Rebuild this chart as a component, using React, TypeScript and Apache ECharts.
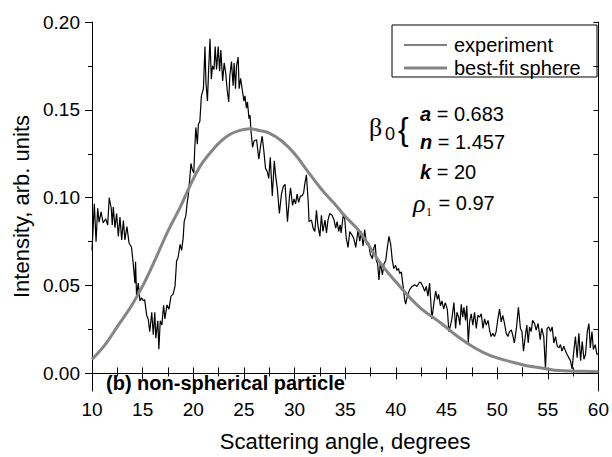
import React, { useEffect, useRef } from "react";
import * as echarts from "echarts";

const FONT = '"Liberation Sans", Arial, sans-serif';
const SERIF = '"Liberation Serif", "Times New Roman", serif';

// experiment (scattering angle, intensity)
const expX = [
  10.0, 10.23, 10.4, 10.56, 10.7, 10.9, 11.1, 11.35, 11.55, 11.7, 11.9, 12.0, 12.1, 12.27, 12.43, 12.6, 12.76, 12.93,
  13.1, 13.25, 13.45, 13.65, 13.9, 14.07, 14.24, 14.3, 14.4, 14.57, 14.73, 14.9, 15.06, 15.2, 15.4, 15.55, 15.7, 15.9,
  16.05, 16.2, 16.3, 16.5, 16.6, 16.74, 16.9, 17.07, 17.2, 17.4, 17.6, 17.8, 18.0, 18.2, 18.35, 18.5, 18.7, 18.85,
  19.0, 19.1, 19.27, 19.4, 19.5, 19.67, 19.77, 19.9, 20.05, 20.15, 20.25, 20.4, 20.5, 20.65, 20.8, 21.0, 21.15, 21.25,
  21.4, 21.5, 21.65, 21.78, 21.9, 22.05, 22.16, 22.3, 22.46, 22.6, 22.72, 22.9, 23.05, 23.2, 23.35, 23.5, 23.6, 23.77,
  23.93, 24.03, 24.17, 24.27, 24.43, 24.53, 24.67, 24.82, 25.0, 25.1, 25.25, 25.35, 25.5, 25.6, 25.7, 25.85, 26.0,
  26.25, 26.47, 26.67, 26.8, 26.96, 27.13, 27.3, 27.45, 27.6, 27.8, 28.0, 28.1, 28.3, 28.5, 28.7, 28.9, 29.06, 29.3,
  29.5, 29.6, 29.8, 29.95, 30.1, 30.25, 30.4, 30.58, 30.74, 30.9, 31.0, 31.17, 31.35, 31.43, 31.67, 31.83, 32.0, 32.16,
  32.3, 32.5, 32.65, 32.8, 33.0, 33.15, 33.3, 33.47, 33.7, 33.9, 34.06, 34.2, 34.36, 34.5, 34.6, 34.8, 34.95, 35.1,
  35.28, 35.45, 35.64, 35.84, 36.04, 36.27, 36.43, 36.6, 36.76, 36.92, 37.1, 37.3, 37.47, 37.68, 37.84, 37.97, 38.07,
  38.2, 38.33, 38.47, 38.67, 38.83, 39.0, 39.16, 39.32, 39.49, 39.65, 39.8, 39.98, 40.1, 40.27, 40.37, 40.54, 40.7,
  40.87, 40.97, 41.13, 41.36, 41.6, 41.85, 42.08, 42.35, 42.5, 42.67, 42.85, 43.0, 43.17, 43.33, 43.56, 43.76, 43.93,
  44.1, 44.22, 44.4, 44.55, 44.72, 44.88, 45.08, 45.24, 45.4, 45.53, 45.73, 45.9, 46.03, 46.2, 46.32, 46.46, 46.6,
  46.72, 46.88, 47.0, 47.15, 47.28, 47.44, 47.6, 47.77, 47.94, 48.1, 48.26, 48.43, 48.6, 48.76, 48.92, 49.1, 49.25,
  49.4, 49.57, 49.74, 49.9, 50.07, 50.24, 50.4, 50.56, 50.73, 50.9, 51.06, 51.22, 51.4, 51.55, 51.7, 51.9, 52.1, 52.3,
  52.45, 52.6, 52.8, 52.93, 53.07, 53.2, 53.36, 53.5, 53.7, 53.85, 54.05, 54.25, 54.4, 54.6, 54.77, 54.93, 55.1,
  55.27, 55.43, 55.6, 55.76, 55.93, 56.1, 56.25, 56.4, 56.58, 56.75, 56.9, 57.07, 57.24, 57.4, 57.57, 57.73, 57.9,
  58.07, 58.24, 58.4, 58.57, 58.73, 58.9, 59.06, 59.2, 59.36, 59.5, 59.68, 59.85, 60.0,
];
const expY = [
  0.07, 0.0965, 0.075, 0.094, 0.086, 0.092, 0.0856, 0.088, 0.0845, 0.1, 0.094, 0.0845, 0.0947, 0.083, 0.091, 0.078,
  0.089, 0.076, 0.087, 0.076, 0.0836, 0.0744, 0.0718, 0.0624, 0.0514, 0.0635, 0.0442, 0.0514, 0.0414, 0.043, 0.0414,
  0.042, 0.033, 0.031, 0.0237, 0.0348, 0.022, 0.0348, 0.02, 0.03, 0.0138, 0.03, 0.0276, 0.0387, 0.031, 0.039, 0.0366,
  0.044, 0.045, 0.0497, 0.064, 0.066, 0.0735, 0.07, 0.077, 0.0864, 0.09, 0.0974, 0.101, 0.112, 0.1195, 0.116, 0.114,
  0.1287, 0.14, 0.1305, 0.1416, 0.1435, 0.158, 0.162, 0.186, 0.1656, 0.155, 0.171, 0.1904, 0.1674, 0.175, 0.173,
  0.186, 0.173, 0.186, 0.172, 0.184, 0.1665, 0.1767, 0.171, 0.161, 0.1545, 0.169, 0.1775, 0.1637, 0.1767, 0.162,
  0.175, 0.18, 0.162, 0.168, 0.162, 0.155, 0.158, 0.151, 0.1545, 0.145, 0.147, 0.138, 0.1287, 0.1324, 0.133, 0.122,
  0.1305, 0.135, 0.127, 0.1167, 0.115, 0.111, 0.123, 0.101, 0.121, 0.114, 0.105, 0.091, 0.102, 0.1066, 0.1076, 0.0864,
  0.101, 0.1057, 0.0956, 0.0993, 0.0965, 0.102, 0.0974, 0.101, 0.101, 0.103, 0.1076, 0.113, 0.0974, 0.0864, 0.0873,
  0.0827, 0.0808, 0.0928, 0.0845, 0.078, 0.09, 0.0808, 0.0873, 0.08, 0.0873, 0.091, 0.09, 0.0873, 0.0827, 0.0864,
  0.0808, 0.0845, 0.08, 0.09, 0.088, 0.077, 0.0717, 0.0808, 0.079, 0.077, 0.0717, 0.0818, 0.0753, 0.0808, 0.0726,
  0.0818, 0.0735, 0.0744, 0.068, 0.0652, 0.0717, 0.0735, 0.0643, 0.0624, 0.0532, 0.0634, 0.056, 0.0624, 0.0643,
  0.0717, 0.078, 0.0735, 0.0643, 0.0597, 0.0615, 0.0587, 0.0597, 0.0569, 0.0578, 0.0504, 0.042, 0.0394, 0.044, 0.0477,
  0.0495, 0.0504, 0.0495, 0.052, 0.0514, 0.0495, 0.0468, 0.0495, 0.044, 0.0514, 0.031, 0.0403, 0.0468, 0.0422, 0.045,
  0.0385, 0.0413, 0.0366, 0.0403, 0.0366, 0.0238, 0.0275, 0.031, 0.0403, 0.0256, 0.0348, 0.032, 0.0275, 0.0394, 0.032,
  0.0376, 0.0302, 0.0385, 0.0173, 0.0293, 0.0339, 0.0275, 0.0348, 0.0256, 0.033, 0.032, 0.0339, 0.0256, 0.031, 0.0275,
  0.0302, 0.0247, 0.021, 0.0228, 0.021, 0.0238, 0.031, 0.0366, 0.0293, 0.033, 0.0284, 0.0228, 0.021, 0.0238, 0.0247,
  0.0215, 0.0173, 0.0256, 0.0376, 0.0256, 0.0238, 0.0127, 0.0219, 0.0275, 0.0173, 0.0265, 0.0238, 0.0302, 0.0284,
  0.0247, 0.0284, 0.0192, 0.0256, 0.021, 0.0026, 0.0256, 0.0265, 0.0238, 0.0265, 0.0173, 0.021, 0.0155, 0.0145,
  0.0164, 0.0127, 0.0155, 0.0127, 0.0109, 0.009, 0.0072, 0.0026, 0.0127, 0.021, 0.009, 0.0228, 0.0072, 0.0182, 0.0081,
  0.0109, 0.0238, 0.0284, 0.0145, 0.0238, 0.0136, 0.0164, 0.0109, 0.011,
];

// best-fit sphere
const fitX = [
  10, 11.3, 12.6, 13.9, 15.06, 16.2, 17.5, 18.7, 19.66, 20.65, 21.6, 22.6, 23.6, 24.6, 25.6, 26.5, 27.4, 28.7, 30.0,
  31.3, 32.65, 33.96, 34.9, 36.4, 38.4, 40.4, 42.35, 44.5, 46.1, 47.8, 49.4, 51.65, 52.9, 54.5, 56.1, 57.8, 60,
];
const fitY = [
  0.008, 0.0164, 0.0275, 0.0385, 0.0504, 0.0643, 0.081, 0.0945, 0.1066, 0.1177, 0.125, 0.1315, 0.136, 0.1383, 0.1392,
  0.1383, 0.137, 0.1324, 0.125, 0.115, 0.1048, 0.0965, 0.09, 0.0808, 0.0634, 0.0495, 0.0376, 0.0284, 0.021, 0.0145,
  0.01, 0.0062, 0.0044, 0.003, 0.0016, 0.0013, 0.0009,
];

const yMajor = [0, 0.05, 0.1, 0.15, 0.2];
const yMinor = [0.025, 0.075, 0.125, 0.175];
const yAll = [0, 0.025, 0.05, 0.075, 0.1, 0.125, 0.15, 0.175, 0.2];

const seriesNames = ["experiment", "best-fit sphere"];

export default function App() {
  const ref = useRef<HTMLDivElement>(null);
  useEffect(() => {
    if (!ref.current) return;
    const chart = echarts.init(ref.current, null, { renderer: "svg" });
    const black = { color: "#000", width: 1 };
    const txt = (x: number, y: number, text: string, extra: any = {}) => ({
      type: "text",
      x,
      y,
      style: {
        text,
        fill: "#000",
        font: `20px ${FONT}`,
        verticalAlign: "middle",
        align: "left",
        ...extra,
      },
    });
    const richParam = (sym: string, rest: string, y: number) =>
      txt(420, y, `{b|${sym}}{r|${rest}}`, {
        rich: {
          b: { fontSize: 20, fontWeight: "bold", fontStyle: "italic", fontFamily: FONT, fill: "#000" },
          r: { fontSize: 20, fontFamily: FONT, fill: "#000" },
        },
      });
    chart.setOption({
      animation: false,
      textStyle: { fontFamily: FONT },
      grid: { left: 92, right: 12, top: 22, bottom: 56 },
      xAxis: [
        {
          type: "value",
          min: 10,
          max: 60,
          interval: 5,
          position: "bottom",
          name: "Scattering angle, degrees",
          nameLocation: "middle",
          nameGap: 39,
          nameTextStyle: { fontSize: 22, color: "#000", fontFamily: FONT },
          axisLine: { lineStyle: black },
          axisTick: { inside: false, length: 6, lineStyle: black },
          minorTick: { show: true, splitNumber: 2, length: 3, lineStyle: black },
          axisLabel: { fontSize: 19, color: "#000", margin: 9, fontFamily: FONT },
          splitLine: { show: false },
        },
        {
          type: "value",
          min: 10,
          max: 60,
          interval: 5,
          position: "top",
          axisLine: { lineStyle: black },
          axisTick: { inside: false, length: 6, lineStyle: black },
          minorTick: { show: true, splitNumber: 2, length: 6, lineStyle: black },
          axisLabel: { show: false },
          splitLine: { show: false },
        },
      ],
      yAxis: [
        {
          type: "value",
          min: -0.01,
          max: 0.2,
          position: "left",
          name: "Intensity, arb. units",
          nameLocation: "middle",
          nameRotate: 90,
          nameGap: 56,
          nameTextStyle: { fontSize: 22, color: "#000", fontFamily: FONT },
          axisLine: { show: true, lineStyle: black },
          axisTick: { show: true, inside: false, length: 7, lineStyle: black, customValues: yMajor },
          axisLabel: {
            fontSize: 19,
            color: "#000",
            margin: 12,
            fontFamily: FONT,
            customValues: yMajor,
            formatter: (v: number) => v.toFixed(2),
          },
          splitLine: { show: false },
        },
        {
          type: "value",
          min: -0.01,
          max: 0.2,
          position: "left",
          axisLine: { show: false },
          axisTick: { show: true, inside: false, length: 4, lineStyle: black, customValues: yMinor },
          axisLabel: { show: false },
          splitLine: { show: false },
        },
        {
          type: "value",
          min: -0.01,
          max: 0.2,
          position: "right",
          axisLine: { show: true, lineStyle: black },
          axisTick: { show: true, inside: true, length: 5, lineStyle: black, customValues: yAll },
          axisLabel: { show: false },
          splitLine: { show: false },
        },
      ],
      series: [
        {
          name: seriesNames[0],
          type: "line",
          xAxisIndex: 0,
          yAxisIndex: 0,
          data: expX.map((x, i) => [x, expY[i]]),
          showSymbol: false,
          symbol: "none",
          lineStyle: { color: "#000", width: 1.2 },
        },
        {
          name: seriesNames[1],
          type: "line",
          xAxisIndex: 0,
          yAxisIndex: 0,
          data: fitX.map((x, i) => [x, fitY[i]]),
          smooth: 0.4,
          showSymbol: false,
          symbol: "none",
          lineStyle: { color: "#858585", width: 3 },
        },
      ],
      graphic: [
        {
          type: "rect",
          shape: { x: 392, y: 25, width: 205, height: 52 },
          style: { fill: "#fff", stroke: "#000", lineWidth: 1 },
        },
        { type: "line", shape: { x1: 404, y1: 45, x2: 447, y2: 45 }, style: { stroke: "#000", lineWidth: 1 } },
        txt(454, 45, seriesNames[0]),
        { type: "line", shape: { x1: 404, y1: 68, x2: 447, y2: 68 }, style: { stroke: "#858585", lineWidth: 3 } },
        txt(454, 68, seriesNames[1]),
        txt(106, 383, "(b) non-spherical particle", { font: `bold 20px ${FONT}` }),
        txt(369, 127, "β", { font: `26px ${SERIF}` }),
        txt(385, 134, "0", { font: `18px ${FONT}` }),
        txt(398, 129, "{", { font: `32px ${FONT}` }),
        richParam("a", " = 0.683", 114),
        richParam("n", " = 1.457", 142),
        richParam("k", " = 20", 172),
        txt(413, 203, "ρ", { font: `italic 26px ${SERIF}` }),
        txt(426, 212, "1", { font: `12px ${SERIF}`, fill: "#000" }),
        txt(433, 203, " = 0.97"),
      ],
    });
    return () => chart.dispose();
  }, []);
  return <div ref={ref} style={{ position: "absolute", left: 0, top: 0, width: 612, height: 457 }} />;
}
